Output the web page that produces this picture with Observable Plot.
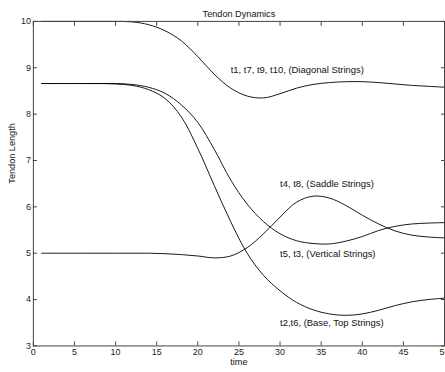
<!DOCTYPE html>
<html>
<head>
<meta charset="utf-8">
<script src="https://cdn.jsdelivr.net/npm/d3@7"></script>
<script src="https://cdn.jsdelivr.net/npm/@observablehq/plot@0.6"></script>
<style>
  html, body { margin: 0; padding: 0; background: white; overflow: hidden; }
</style>
</head>
<body>
<div id="chart"></div>
<script>
// time samples
const time = [1, 4, 6, 8, 10, 12, 14, 16, 18, 20, 22, 24, 26, 28, 30, 32, 34, 36, 38, 40, 42, 44, 46, 48, 50];
// series values (tendon length)
const diagonal = [10, 10, 10, 10, 10, 9.99, 9.93, 9.80, 9.58, 9.24, 8.86, 8.56, 8.39, 8.35, 8.44, 8.56, 8.64, 8.68, 8.70, 8.70, 8.68, 8.65, 8.62, 8.60, 8.58];
const vertical = [8.66, 8.66, 8.66, 8.66, 8.66, 8.64, 8.58, 8.45, 8.20, 7.82, 7.24, 6.58, 6.06, 5.68, 5.42, 5.27, 5.21, 5.20, 5.26, 5.36, 5.49, 5.58, 5.63, 5.65, 5.66];
const base = [8.66, 8.66, 8.66, 8.66, 8.65, 8.62, 8.53, 8.34, 7.94, 7.26, 6.46, 5.68, 5.00, 4.52, 4.19, 3.94, 3.78, 3.69, 3.66, 3.69, 3.77, 3.87, 3.95, 4.00, 4.03];
const saddle = [5.0, 5.0, 5.0, 5.0, 5.0, 5.0, 5.0, 4.99, 4.97, 4.94, 4.90, 4.94, 5.12, 5.42, 5.78, 6.10, 6.23, 6.19, 6.03, 5.82, 5.63, 5.48, 5.39, 5.35, 5.33];

const seriesNames = ["diagonal", "vertical", "base", "saddle"];
const seriesValues = [diagonal, vertical, base, saddle];

// curve labels
const labelText = ["t1, t7, t9, t10, (Diagonal Strings)", "t4, t8, (Saddle Strings)", "t5, t3, (Vertical Strings)", "t2,t6, (Base, Top Strings)"];
const labelX = [24, 30, 30, 30];
const labelY = [8.96, 6.49, 4.99, 3.50];

const xTicks = [0, 5, 10, 15, 20, 25, 30, 35, 40, 45, 50];
const yTicks = [3, 4, 5, 6, 7, 8, 9, 10];

const title = "Tendon Dynamics";
const xLabel = "time";
const yLabel = "Tendon Length";

const rows = [];
seriesNames.forEach((name, si) => {
  time.forEach((t, i) => rows.push({series: name, t, v: seriesValues[si][i]}));
});
const labels = labelText.map((text, i) => ({text, x: labelX[i], y: labelY[i]}));

const axisColor = "#444";
const font = "'Liberation Sans', Arial, Helvetica, sans-serif";
const fmt = d3.format("d");

const chart = Plot.plot({
  width: 447,
  height: 372,
  marginLeft: 33,
  marginRight: 1,
  marginTop: 21,
  marginBottom: 25,
  style: {fontFamily: font, fontSize: "9px", background: "white", color: "#222", overflow: "visible"},
  x: {domain: [0, 50], label: null},
  y: {domain: [3, 10], label: null},
  marks: [
    Plot.line(rows, {x: "t", y: "v", z: "series", stroke: "black", strokeWidth: 0.9, curve: "catmull-rom"}),
    Plot.frame({stroke: axisColor, strokeWidth: 1}),
    Plot.axisX({anchor: "bottom", ticks: xTicks, tickFormat: fmt, tickSize: -4, tickPadding: 7, stroke: axisColor, label: null, fill: "#222"}),
    Plot.axisX({anchor: "top", ticks: xTicks, tickSize: -4, tickFormat: () => "", stroke: axisColor, label: null}),
    Plot.axisY({anchor: "left", ticks: yTicks, tickFormat: fmt, tickSize: -4, tickPadding: 6.5, stroke: axisColor, label: null, fill: "#222"}),
    Plot.axisY({anchor: "right", ticks: yTicks, tickSize: -4, tickFormat: () => "", stroke: axisColor, label: null}),
    Plot.text(labels, {x: "x", y: "y", text: "text", textAnchor: "start", fontSize: 9.5, fill: "#111"}),
    Plot.text([title], {frameAnchor: "top", dy: -11, fontSize: 9.2, fill: "#111"}),
    Plot.text([xLabel], {frameAnchor: "bottom", dy: 19, fontSize: 9.2, fill: "#111"}),
    Plot.text([yLabel], {frameAnchor: "left", dx: -21, rotate: -90, fontSize: 9.2, fill: "#111"})
  ]
});
document.getElementById("chart").appendChild(chart);
</script>
</body>
</html>
